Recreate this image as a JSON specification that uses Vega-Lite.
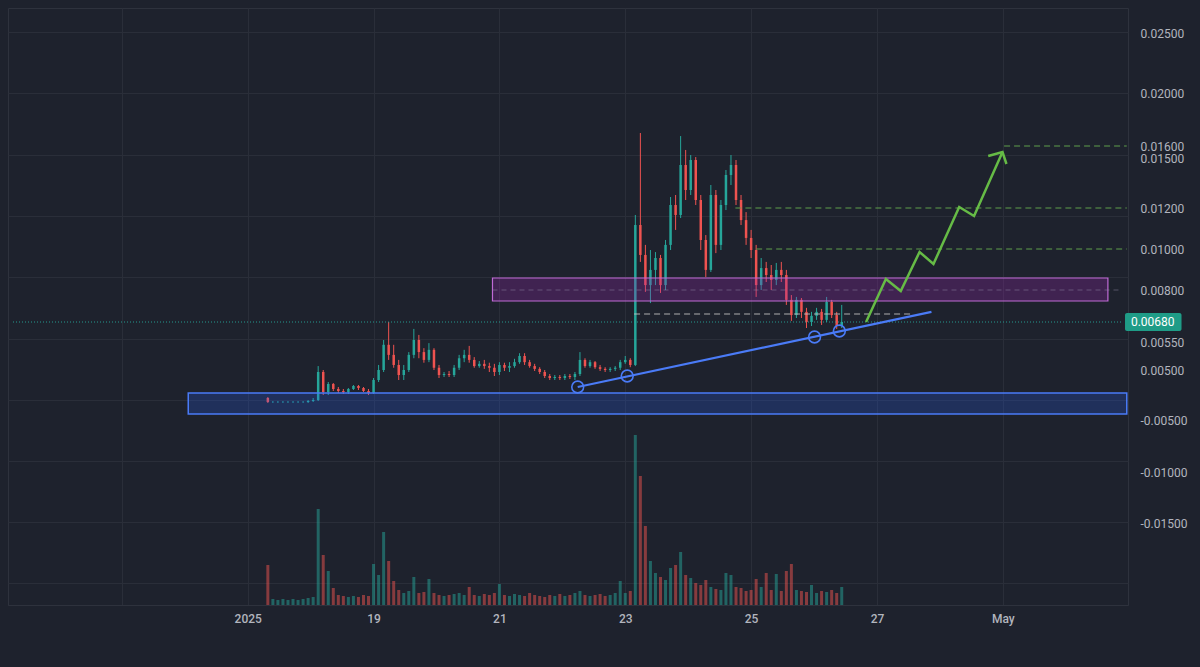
{
"$schema": "https://vega.github.io/schema/vega-lite/v6.json",
"width": 1120, "height": 597,
"autosize": "none",
"padding": {"left": 8, "top": 8, "right": 72, "bottom": 62},
"background": "#1e222d",
"config": {
  "view": {"stroke": "#2e323d", "fill": "#1e222d"},
  "axis": {"labelColor": "#b2b5be", "labelFont": "Roboto", "labelFontSize": 12, "gridColor": "#2a2e39", "gridWidth": 1, "domain": false, "ticks": false}
},
"datasets": {
"candles": [
{"t":17.32,"o":-0.0006,"h":-0.0004,"l":-0.0016,"c":-0.0014,"v":40},
{"t":17.40,"o":-0.0014,"h":-0.0012,"l":-0.0016,"c":-0.0014,"v":6},
{"t":17.48,"o":-0.0014,"h":-0.0012,"l":-0.0016,"c":-0.0014,"v":5},
{"t":17.56,"o":-0.0014,"h":-0.0012,"l":-0.0016,"c":-0.0014,"v":6},
{"t":17.64,"o":-0.0014,"h":-0.0012,"l":-0.0016,"c":-0.0014,"v":5},
{"t":17.72,"o":-0.0014,"h":-0.0012,"l":-0.0016,"c":-0.0014,"v":6},
{"t":17.80,"o":-0.0014,"h":-0.0012,"l":-0.0016,"c":-0.0014,"v":5},
{"t":17.88,"o":-0.0014,"h":-0.0012,"l":-0.0016,"c":-0.0014,"v":6},
{"t":17.96,"o":-0.0014,"h":-0.0010,"l":-0.0016,"c":-0.0012,"v":7},
{"t":18.04,"o":-0.0012,"h":-0.0006,"l":-0.0014,"c":-0.0010,"v":8},
{"t":18.12,"o":-0.0010,"h":0.00507,"l":-0.0012,"c":0.0046,"v":96},
{"t":18.20,"o":0.0046,"h":0.0050,"l":0.0000,"c":0.0006,"v":50},
{"t":18.28,"o":0.0006,"h":0.0026,"l":0.0000,"c":0.0022,"v":34},
{"t":18.36,"o":0.0022,"h":0.0024,"l":0.0008,"c":0.0012,"v":17},
{"t":18.44,"o":0.0012,"h":0.0016,"l":0.0004,"c":0.0008,"v":10},
{"t":18.52,"o":0.0008,"h":0.0012,"l":0.0002,"c":0.0006,"v":9},
{"t":18.60,"o":0.0006,"h":0.0014,"l":0.0002,"c":0.0012,"v":8},
{"t":18.68,"o":0.0012,"h":0.0020,"l":0.0010,"c":0.0018,"v":9},
{"t":18.76,"o":0.0018,"h":0.0020,"l":0.0010,"c":0.0014,"v":8},
{"t":18.84,"o":0.0014,"h":0.0016,"l":0.0006,"c":0.0008,"v":10},
{"t":18.92,"o":0.0008,"h":0.0012,"l":0.0000,"c":0.0004,"v":9},
{"t":19.00,"o":0.0004,"h":0.0034,"l":0.0002,"c":0.0030,"v":41},
{"t":19.08,"o":0.0030,"h":0.00509,"l":0.0026,"c":0.0050,"v":30},
{"t":19.16,"o":0.0050,"h":0.00563,"l":0.0046,"c":0.00545,"v":73},
{"t":19.24,"o":0.00545,"h":0.0068,"l":0.00518,"c":0.00527,"v":44},
{"t":19.32,"o":0.00527,"h":0.00545,"l":0.00504,"c":0.00509,"v":24},
{"t":19.40,"o":0.00509,"h":0.00518,"l":0.0030,"c":0.0040,"v":15},
{"t":19.48,"o":0.0040,"h":0.00509,"l":0.0030,"c":0.0050,"v":12},
{"t":19.56,"o":0.0050,"h":0.00532,"l":0.0046,"c":0.00527,"v":14},
{"t":19.64,"o":0.00527,"h":0.00635,"l":0.00521,"c":0.00563,"v":28},
{"t":19.72,"o":0.00563,"h":0.00596,"l":0.00521,"c":0.00532,"v":12},
{"t":19.80,"o":0.00532,"h":0.00539,"l":0.00513,"c":0.00518,"v":13},
{"t":19.88,"o":0.00518,"h":0.00548,"l":0.00514,"c":0.00536,"v":26},
{"t":19.96,"o":0.00536,"h":0.00539,"l":0.0050,"c":0.00504,"v":12},
{"t":20.04,"o":0.00504,"h":0.00509,"l":0.0034,"c":0.0040,"v":10},
{"t":20.12,"o":0.0040,"h":0.0046,"l":0.0036,"c":0.0042,"v":9},
{"t":20.20,"o":0.0042,"h":0.0048,"l":0.0036,"c":0.0040,"v":10},
{"t":20.28,"o":0.0040,"h":0.00509,"l":0.0036,"c":0.00504,"v":11},
{"t":20.36,"o":0.00504,"h":0.00527,"l":0.0050,"c":0.00521,"v":12},
{"t":20.44,"o":0.00521,"h":0.00536,"l":0.00514,"c":0.00527,"v":10},
{"t":20.52,"o":0.00527,"h":0.00543,"l":0.00513,"c":0.00518,"v":18},
{"t":20.60,"o":0.00518,"h":0.00523,"l":0.00504,"c":0.00507,"v":10},
{"t":20.68,"o":0.00507,"h":0.00516,"l":0.00504,"c":0.00511,"v":9},
{"t":20.76,"o":0.00511,"h":0.00518,"l":0.00502,"c":0.00507,"v":11},
{"t":20.84,"o":0.00507,"h":0.00513,"l":0.0046,"c":0.00504,"v":10},
{"t":20.92,"o":0.00504,"h":0.00511,"l":0.0038,"c":0.0046,"v":12},
{"t":21.00,"o":0.0046,"h":0.00514,"l":0.0040,"c":0.00509,"v":21},
{"t":21.08,"o":0.00509,"h":0.00513,"l":0.0048,"c":0.00504,"v":10},
{"t":21.16,"o":0.00504,"h":0.00514,"l":0.0046,"c":0.00507,"v":9},
{"t":21.24,"o":0.00507,"h":0.00520,"l":0.00504,"c":0.00514,"v":11},
{"t":21.32,"o":0.00514,"h":0.00530,"l":0.00511,"c":0.00525,"v":10},
{"t":21.40,"o":0.00525,"h":0.00530,"l":0.00509,"c":0.00514,"v":9},
{"t":21.48,"o":0.00514,"h":0.00518,"l":0.00504,"c":0.00507,"v":12},
{"t":21.56,"o":0.00507,"h":0.00511,"l":0.0048,"c":0.00502,"v":10},
{"t":21.64,"o":0.00502,"h":0.00505,"l":0.0042,"c":0.0046,"v":9},
{"t":21.72,"o":0.0046,"h":0.0050,"l":0.0034,"c":0.0038,"v":8},
{"t":21.80,"o":0.0038,"h":0.0042,"l":0.0030,"c":0.0034,"v":10},
{"t":21.88,"o":0.0034,"h":0.0040,"l":0.0030,"c":0.0036,"v":9},
{"t":21.96,"o":0.0036,"h":0.0040,"l":0.0030,"c":0.0034,"v":11},
{"t":22.04,"o":0.0034,"h":0.0042,"l":0.0030,"c":0.0038,"v":9},
{"t":22.12,"o":0.0038,"h":0.0042,"l":0.0032,"c":0.0036,"v":10},
{"t":22.20,"o":0.0036,"h":0.0046,"l":0.0030,"c":0.0042,"v":12},
{"t":22.28,"o":0.0042,"h":0.00532,"l":0.0038,"c":0.00518,"v":14},
{"t":22.36,"o":0.00518,"h":0.00521,"l":0.00504,"c":0.00507,"v":10},
{"t":22.44,"o":0.00507,"h":0.00518,"l":0.00504,"c":0.00514,"v":9},
{"t":22.52,"o":0.00514,"h":0.00516,"l":0.00502,"c":0.00505,"v":10},
{"t":22.60,"o":0.00505,"h":0.00509,"l":0.0048,"c":0.00502,"v":11},
{"t":22.68,"o":0.00502,"h":0.00505,"l":0.0046,"c":0.0050,"v":9},
{"t":22.76,"o":0.0050,"h":0.00505,"l":0.0046,"c":0.00502,"v":10},
{"t":22.84,"o":0.00502,"h":0.00507,"l":0.0048,"c":0.00504,"v":12},
{"t":22.92,"o":0.00504,"h":0.00518,"l":0.0050,"c":0.00514,"v":24},
{"t":23.00,"o":0.00514,"h":0.00525,"l":0.00511,"c":0.00518,"v":12},
{"t":23.08,"o":0.00518,"h":0.00521,"l":0.00505,"c":0.00509,"v":14},
{"t":23.16,"o":0.00509,"h":0.01166,"l":0.00507,"c":0.01117,"v":170},
{"t":23.24,"o":0.01117,"h":0.01698,"l":0.00937,"c":0.00971,"v":129},
{"t":23.32,"o":0.00971,"h":0.01020,"l":0.00793,"c":0.00824,"v":79},
{"t":23.40,"o":0.00824,"h":0.00995,"l":0.00751,"c":0.00898,"v":44},
{"t":23.48,"o":0.00898,"h":0.00985,"l":0.00824,"c":0.00956,"v":32},
{"t":23.56,"o":0.00956,"h":0.00971,"l":0.00789,"c":0.00824,"v":28},
{"t":23.64,"o":0.00824,"h":0.01044,"l":0.0080,"c":0.01020,"v":25},
{"t":23.72,"o":0.01020,"h":0.01266,"l":0.00995,"c":0.01218,"v":37},
{"t":23.80,"o":0.01218,"h":0.01278,"l":0.01093,"c":0.01166,"v":40},
{"t":23.88,"o":0.01166,"h":0.01675,"l":0.01151,"c":0.01458,"v":53},
{"t":23.96,"o":0.01458,"h":0.01567,"l":0.01248,"c":0.01308,"v":30},
{"t":24.04,"o":0.01308,"h":0.01525,"l":0.01278,"c":0.01488,"v":27},
{"t":24.12,"o":0.01488,"h":0.01508,"l":0.01218,"c":0.01248,"v":22},
{"t":24.20,"o":0.01248,"h":0.01278,"l":0.00995,"c":0.01044,"v":20},
{"t":24.28,"o":0.01044,"h":0.01068,"l":0.00863,"c":0.00898,"v":25},
{"t":24.36,"o":0.00898,"h":0.01338,"l":0.00888,"c":0.01278,"v":18},
{"t":24.44,"o":0.01278,"h":0.01308,"l":0.00980,"c":0.01020,"v":16},
{"t":24.52,"o":0.01020,"h":0.01248,"l":0.00995,"c":0.01218,"v":15},
{"t":24.60,"o":0.01218,"h":0.01428,"l":0.01190,"c":0.01398,"v":32},
{"t":24.68,"o":0.01398,"h":0.01525,"l":0.01338,"c":0.01458,"v":30},
{"t":24.76,"o":0.01458,"h":0.01488,"l":0.01218,"c":0.01248,"v":18},
{"t":24.84,"o":0.01248,"h":0.01278,"l":0.01117,"c":0.01141,"v":17},
{"t":24.92,"o":0.01141,"h":0.01180,"l":0.01020,"c":0.01054,"v":14},
{"t":25.00,"o":0.01054,"h":0.01093,"l":0.00956,"c":0.00995,"v":15},
{"t":25.08,"o":0.00995,"h":0.01020,"l":0.00774,"c":0.00824,"v":26},
{"t":25.16,"o":0.00824,"h":0.00956,"l":0.0080,"c":0.00907,"v":18},
{"t":25.24,"o":0.00907,"h":0.00937,"l":0.00839,"c":0.00873,"v":32},
{"t":25.32,"o":0.00873,"h":0.00922,"l":0.0080,"c":0.00849,"v":15},
{"t":25.40,"o":0.00849,"h":0.00932,"l":0.00824,"c":0.00898,"v":31},
{"t":25.48,"o":0.00898,"h":0.00937,"l":0.00839,"c":0.00873,"v":14},
{"t":25.56,"o":0.00873,"h":0.00898,"l":0.00744,"c":0.00763,"v":34},
{"t":25.64,"o":0.00763,"h":0.00781,"l":0.00684,"c":0.00706,"v":41},
{"t":25.72,"o":0.00706,"h":0.00774,"l":0.00695,"c":0.00763,"v":15},
{"t":25.80,"o":0.00763,"h":0.00770,"l":0.00695,"c":0.00718,"v":14},
{"t":25.88,"o":0.00718,"h":0.00733,"l":0.00641,"c":0.0068,"v":13},
{"t":25.96,"o":0.0068,"h":0.00718,"l":0.00654,"c":0.00703,"v":20},
{"t":26.04,"o":0.00703,"h":0.00733,"l":0.00688,"c":0.00718,"v":12},
{"t":26.12,"o":0.00718,"h":0.00729,"l":0.00661,"c":0.00688,"v":14},
{"t":26.20,"o":0.00688,"h":0.00774,"l":0.0068,"c":0.00755,"v":13},
{"t":26.28,"o":0.00755,"h":0.00763,"l":0.00695,"c":0.00706,"v":15},
{"t":26.36,"o":0.00706,"h":0.00718,"l":0.00635,"c":0.00654,"v":12},
{"t":26.44,"o":0.00654,"h":0.00744,"l":0.00641,"c":0.0068,"v":18}
]
},
"resolve": {"scale": {"y": "independent"}},
"layer": [
  {
    "data": {"name": "candles"},
    "mark": {"type": "bar", "width": 3, "opacity": 0.5, "orient": "vertical"},
    "encoding": {
      "x": {"field": "t", "type": "quantitative", "title": null,
        "scale": {"domain": [13.27, 30.91], "nice": false, "zero": false},
        "axis": {"values": [15,17,19,21,23,25,27,29], "format": "d", "grid": true, "labelPadding": 8, "domain": true, "domainColor": "#2e323d", "labelFontWeight": 500,
          "labelExpr": "datum.value == 17 ? '2025' : datum.value == 29 ? 'May' : datum.value == 15 ? '' : datum.label"}},
      "y": {"field": "v", "type": "quantitative", "title": null,
        "scale": {"domain": [0, 597], "nice": false, "zero": true},
        "axis": {"orient": "left", "values": [22,83,144,205,266,328,389,450,512,573], "labels": false, "grid": true}},
      "color": {"condition": {"test": "datum.c >= datum.o", "value": "#26a69a"}, "value": "#ef5350"}
    }
  },
  {
    "layer": [
      {
        "data": {"name": "candles"},
        "mark": {"type": "rule", "strokeWidth": 1},
        "encoding": {
          "x": {"field": "t", "type": "quantitative", "title": null},
          "y": {"field": "l", "type": "quantitative", "title": null,
            "scale": {"type": "linear", "zero": false, "nice": false,
              "domain": [0.02708, 0.025, 0.02, 0.016, 0.015, 0.012, 0.01, 0.008, 0.0068, 0.0055, 0.005, -0.005, -0.01, -0.015, -0.02304],
              "range": [0, 25, 85, 138, 150, 200, 241, 282, 314, 334, 362, 412, 464, 515, 597]},
            "axis": {"orient": "right", "values": [0.025, 0.02, 0.016, 0.015, 0.012, 0.01, 0.008, 0.0055, 0.005, -0.005, -0.01, -0.015],
              "format": ".5f", "labelPadding": 12, "grid": false, "labelBaseline": "middle",
              "labelExpr": "replace(datum.label, '\u2212', '-')"}},
          "y2": {"field": "h"},
          "color": {"condition": {"test": "datum.c >= datum.o", "value": "#26a69a"}, "value": "#ef5350"}
        }
      },
      {
        "data": {"name": "candles"},
        "mark": {"type": "bar", "width": 2.5},
        "encoding": {
          "x": {"field": "t", "type": "quantitative", "title": null},
          "y": {"field": "o", "type": "quantitative", "title": null},
          "y2": {"field": "c"},
          "color": {"condition": {"test": "datum.c >= datum.o", "value": "#26a69a"}, "value": "#ef5350"}
        }
      },
      {
        "data": {"values": [{"t1": 13.27, "t2": 30.91, "p": 0.0068}]},
        "mark": {"type": "rule", "color": "#26a69a", "strokeDash": [1, 2], "strokeWidth": 1, "opacity": 0.9},
        "encoding": {
          "x": {"field": "t1", "type": "quantitative", "title": null}, "x2": {"field": "t2"},
          "y": {"field": "p", "type": "quantitative", "title": null}
        }
      },
      {
        "data": {"values": [{"t1": 20.89, "t2": 30.67, "p1": 0.008585, "p2": 0.007588}]},
        "mark": {"type": "rect", "fill": "#9c27b0", "fillOpacity": 0.28, "stroke": "#c06ad6", "strokeWidth": 1.2},
        "encoding": {
          "x": {"field": "t1", "type": "quantitative", "title": null}, "x2": {"field": "t2"},
          "y": {"field": "p1", "type": "quantitative", "title": null}, "y2": {"field": "p2"}
        }
      },
      {
        "data": {"values": [{"t1": 20.89, "t2": 30.9, "p": 0.008}]},
        "mark": {"type": "rule", "color": "#9a8db0", "strokeDash": [5, 4], "strokeWidth": 1, "opacity": 0.45},
        "encoding": {
          "x": {"field": "t1", "type": "quantitative", "title": null}, "x2": {"field": "t2"},
          "y": {"field": "p", "type": "quantitative", "title": null}
        }
      },
      {
        "data": {"values": [{"t1": 16.055, "t2": 30.97, "p1": 0.0004, "p2": -0.0038}]},
        "mark": {"type": "rect", "fill": "#2962ff", "fillOpacity": 0.22, "stroke": "#4a7bf7", "strokeWidth": 1.5},
        "encoding": {
          "x": {"field": "t1", "type": "quantitative", "title": null}, "x2": {"field": "t2"},
          "y": {"field": "p1", "type": "quantitative", "title": null}, "y2": {"field": "p2"}
        }
      },
      {
        "data": {"values": [{"t1": 29.02, "t2": 30.97, "p": 0.016}, {"t1": 24.75, "t2": 30.97, "p": 0.012}, {"t1": 25.08, "t2": 30.97, "p": 0.010}]},
        "mark": {"type": "rule", "color": "#5e9e4c", "strokeDash": [6, 4], "strokeWidth": 1.2},
        "encoding": {
          "x": {"field": "t1", "type": "quantitative", "title": null}, "x2": {"field": "t2"},
          "y": {"field": "p", "type": "quantitative", "title": null}
        }
      },
      {
        "data": {"values": [{"t1": 23.14, "t2": 27.58, "p": 0.0071}]},
        "mark": {"type": "rule", "color": "#c8c8c8", "strokeDash": [6, 4], "strokeWidth": 1.2, "opacity": 0.85},
        "encoding": {
          "x": {"field": "t1", "type": "quantitative", "title": null}, "x2": {"field": "t2"},
          "y": {"field": "p", "type": "quantitative", "title": null}
        }
      },
      {
        "data": {"values": [{"t": 22.244, "p": 0.0016}, {"t": 27.866, "p": 0.00718}]},
        "mark": {"type": "line", "color": "#4a7bf7", "strokeWidth": 2.2},
        "encoding": {
          "x": {"field": "t", "type": "quantitative", "title": null},
          "y": {"field": "p", "type": "quantitative", "title": null}
        }
      },
      {
        "data": {"values": [{"t": 22.244, "p": 0.0016}, {"t": 23.031, "p": 0.0038}, {"t": 26.008, "p": 0.005825}, {"t": 26.402, "p": 0.006215}]},
        "mark": {"type": "point", "filled": false, "shape": "circle", "size": 140, "strokeWidth": 1.6, "color": "#4a7bf7", "opacity": 1},
        "encoding": {
          "x": {"field": "t", "type": "quantitative", "title": null},
          "y": {"field": "p", "type": "quantitative", "title": null}
        }
      },
      {
        "data": {"values": [
          {"seg": "path", "k": 0, "t": 26.827, "p": 0.0068},
          {"seg": "path", "k": 1, "t": 27.142, "p": 0.008536},
          {"seg": "path", "k": 2, "t": 27.378, "p": 0.00796},
          {"seg": "path", "k": 3, "t": 27.677, "p": 0.009854},
          {"seg": "path", "k": 4, "t": 27.898, "p": 0.009268},
          {"seg": "path", "k": 5, "t": 28.307, "p": 0.01206},
          {"seg": "path", "k": 6, "t": 28.543, "p": 0.01161},
          {"seg": "path", "k": 7, "t": 28.995, "p": 0.0155},
          {"seg": "head", "k": 0, "t": 28.768, "p": 0.01517},
          {"seg": "head", "k": 1, "t": 28.995, "p": 0.0155},
          {"seg": "head", "k": 2, "t": 29.058, "p": 0.01464}
        ]},
        "mark": {"type": "line", "color": "#66bb46", "strokeWidth": 2.5, "strokeJoin": "miter"},
        "encoding": {
          "x": {"field": "t", "type": "quantitative", "title": null},
          "y": {"field": "p", "type": "quantitative", "title": null},
          "detail": {"field": "seg"},
          "order": {"field": "k", "type": "quantitative"}
        }
      },
      {
        "data": {"values": [{"t1": 30.942, "t2": 31.84, "p1": 0.00714, "p2": 0.006215}]},
        "mark": {"type": "rect", "fill": "#1f9c87", "cornerRadius": 2},
        "encoding": {
          "x": {"field": "t1", "type": "quantitative", "title": null}, "x2": {"field": "t2"},
          "y": {"field": "p1", "type": "quantitative", "title": null}, "y2": {"field": "p2"}
        }
      },
      {
        "data": {"values": [{"t": 31.383, "p": 0.0068, "label": "0.00680"}]},
        "mark": {"type": "text", "color": "#ffffff", "font": "Roboto", "fontSize": 12, "align": "center", "baseline": "middle"},
        "encoding": {
          "x": {"field": "t", "type": "quantitative", "title": null},
          "y": {"field": "p", "type": "quantitative", "title": null},
          "text": {"field": "label"}
        }
      }
    ]
  }
]
}
